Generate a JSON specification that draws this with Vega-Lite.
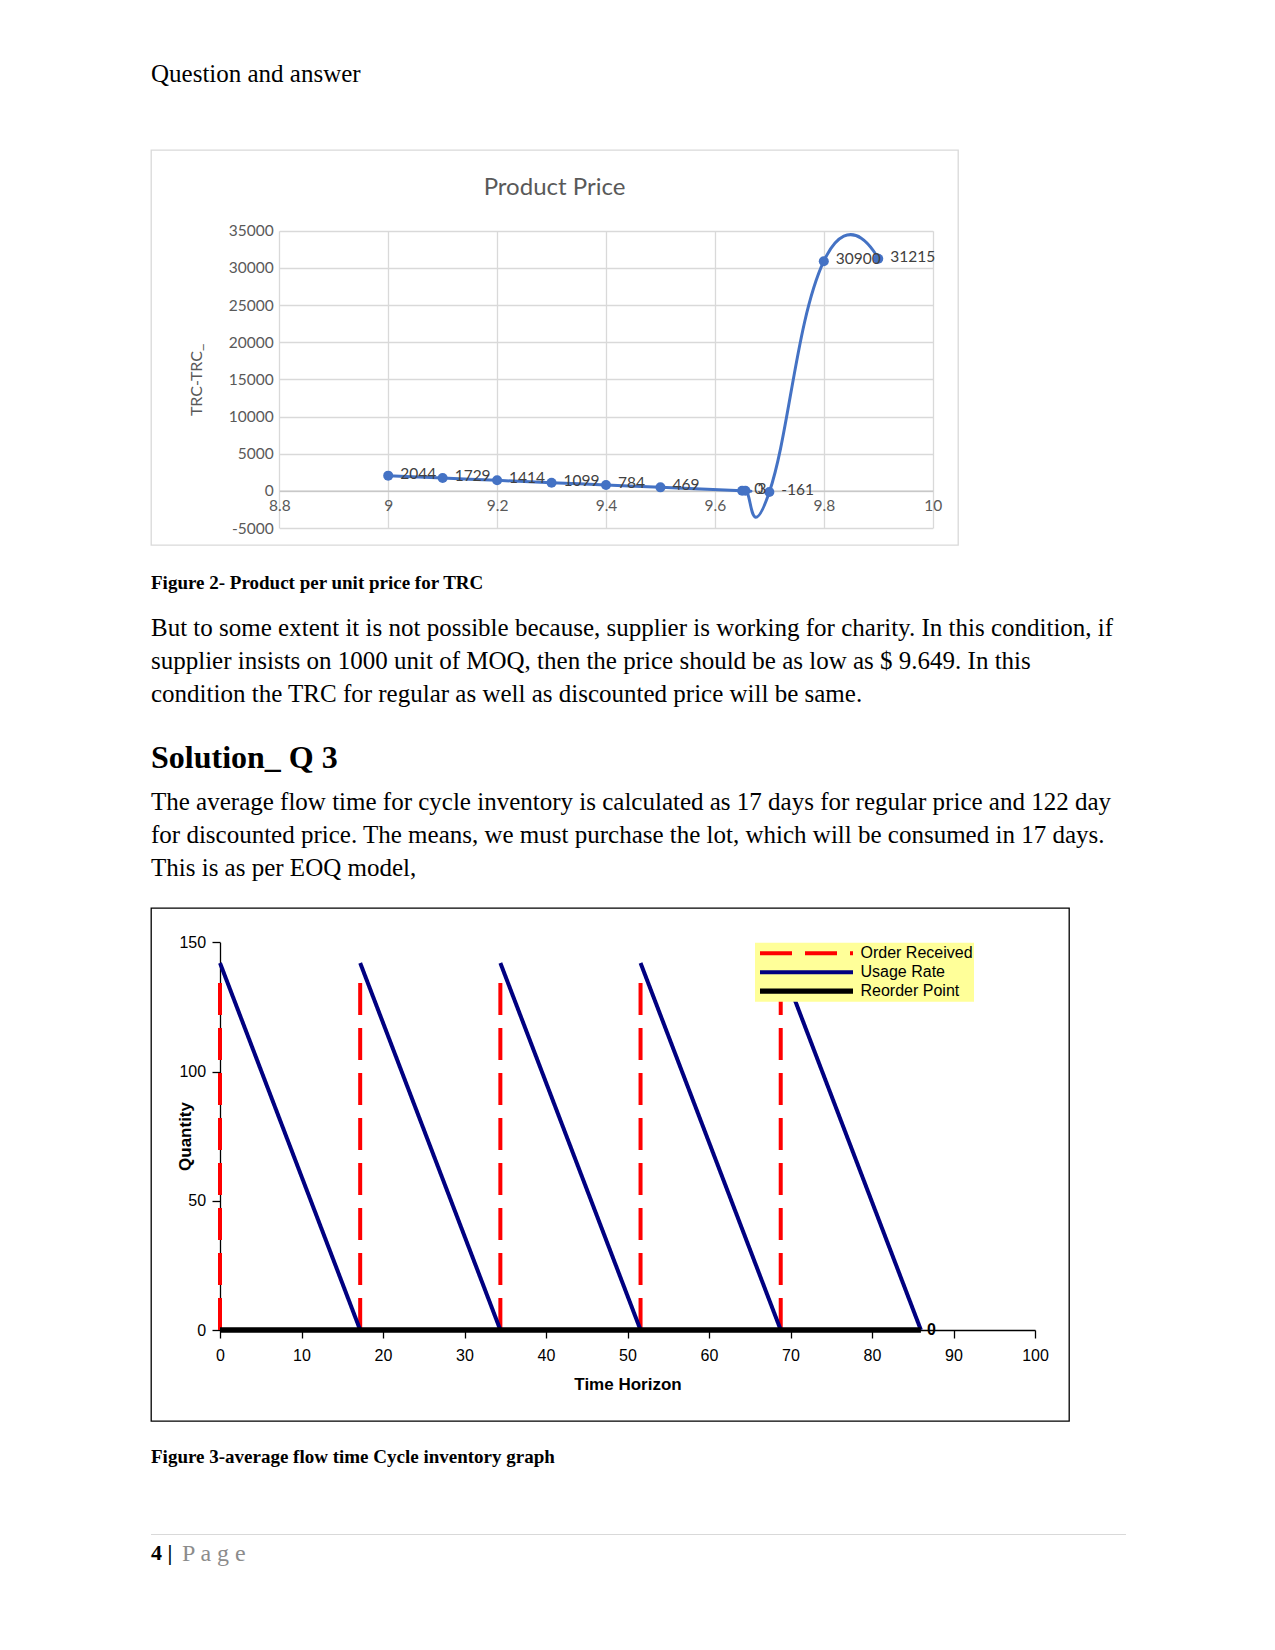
{
  "$schema": "https://vega.github.io/schema/vega-lite/v6.json",
  "background": "white",
  "padding": {"left": 150, "top": 0, "right": 0, "bottom": 0},
  "bounds": "flush",
  "spacing": 0,
  "resolve": {
    "scale": {"color": "independent", "strokeDash": "independent", "strokeWidth": "independent"},
    "legend": {"color": "independent", "strokeDash": "independent", "strokeWidth": "independent"}
  },
  "config": {
    "view": {"stroke": null},
    "font": "Liberation Serif",
    "axis": {"minExtent": 0}
  },
  "vconcat": [
    {
      "width": 807,
      "height": 150,
      "view": {"fill": "white", "stroke": null},
      "data": {"values": [{}]},
      "mark": {"type": "text"},
      "encoding": {"text": {"value": ""}},
      "title": {
        "text": "Question and answer",
        "orient": "bottom", "anchor": "start", "frame": "group",
        "offset": -87.75, "baseline": "top",
        "font": "Liberation Serif", "fontSize": 25, "fontWeight": "normal", "color": "black", "limit": 0
      }
    },
    {
      "width": 807,
      "height": 395,
      "view": {"stroke": "#d9d9d9", "strokeWidth": 1.3},
      "title": {
        "text": "Product Price",
        "orient": "top", "anchor": "middle", "offset": -50, "baseline": "top",
        "font": "Lato", "fontSize": 24, "fontWeight": "normal", "color": "#595959"
      },
      "data": {
        "values": [
          {"price": 9.0, "diff": 2044},
          {"price": 9.1, "diff": 1729},
          {"price": 9.2, "diff": 1414},
          {"price": 9.3, "diff": 1099},
          {"price": 9.4, "diff": 784},
          {"price": 9.5, "diff": 469},
          {"price": 9.65, "diff": 0},
          {"price": 9.656, "diff": 3},
          {"price": 9.7, "diff": -161},
          {"price": 9.8, "diff": 30900},
          {"price": 9.9, "diff": 31215}
        ]
      },
      "encoding": {
        "y": {
          "field": "diff", "type": "quantitative",
          "scale": {"domain": [-5000, 35000], "range": [378, 80.7], "nice": false, "zero": false},
          "axis": {
            "orient": "left", "offset": -128.3,
            "values": [-5000, 0, 5000, 10000, 15000, 20000, 25000, 30000, 35000],
            "domain": false, "ticks": false,
            "grid": true, "gridColor": "#d9d9d9", "gridWidth": 1.3,
            "labelPadding": 6, "labelFont": "Lato", "labelFontSize": 15.5, "labelColor": "#595959",
            "labelFlush": false, "labelOverlap": false,
            "labelExpr": "'' + datum.value",
            "title": "TRC-TRC_", "titleFont": "Lato", "titleFontSize": 16, "titleFontWeight": "normal",
            "titleColor": "#595959", "titleX": -83, "titleY": 229.4, "titleBaseline": "middle", "titleAngle": 270
          }
        }
      },
      "layer": [
        {
          "mark": {"type": "line", "interpolate": "cardinal", "tension": -0.5, "color": "#4472C4", "strokeWidth": 3},
          "encoding": {
            "x": {
              "field": "price", "type": "quantitative",
              "scale": {"domain": [8.8, 10], "range": [128.3, 781.7], "nice": false, "zero": false},
              "axis": {
                "orient": "top", "values": [8.8, 9, 9.2, 9.4, 9.6, 9.8, 10],
                "grid": true, "gridColor": "#d9d9d9", "gridWidth": 1.3,
                "domain": false, "ticks": false, "labels": false, "title": null
              }
            }
          }
        },
        {
          "mark": {"type": "point", "filled": true, "size": 100, "color": "#4472C4", "opacity": 1},
          "encoding": {
            "x": {
              "field": "price", "type": "quantitative",
              "scale": {"domain": [8.8, 10], "range": [128.3, 781.7], "nice": false, "zero": false},
              "axis": {
                "orient": "bottom", "offset": -54.3, "values": [8.8, 9, 9.2, 9.4, 9.6, 9.8, 10],
                "format": "~g", "grid": false,
                "domain": true, "domainColor": "#c8c8c8", "domainWidth": 1.5,
                "ticks": false, "labelPadding": 7.7,
                "labelFont": "Lato", "labelFontSize": 15.5, "labelColor": "#595959",
                "labelFlush": false, "labelOverlap": false, "title": null
              }
            }
          }
        },
        {
          "mark": {"type": "text", "align": "left", "baseline": "middle", "dx": 12, "dy": -2, "font": "Lato", "fontSize": 15.5, "color": "#404040"},
          "encoding": {
            "x": {
              "field": "price", "type": "quantitative",
              "scale": {"domain": [8.8, 10], "range": [128.3, 781.7], "nice": false, "zero": false},
              "axis": null
            },
            "text": {"field": "diff", "type": "nominal"}
          }
        }
      ],
      "resolve": {"axis": {"x": "independent"}}
    },
    {
      "width": 807,
      "height": 175,
      "data": {"values": [{}]},
      "mark": {"type": "text"},
      "encoding": {"text": {"value": ""}},
      "title": {
        "text": "Figure 2- Product per unit price for TRC",
        "subtitle": [
          "But to some extent it is not possible because, supplier is working for charity. In this condition, if",
          "supplier insists on 1000 unit of MOQ, then the price should be as low as $ 9.649. In this",
          "condition the TRC for regular as well as discounted price will be same."
        ],
        "orient": "bottom", "anchor": "start", "frame": "group",
        "offset": -146, "baseline": "top",
        "font": "Liberation Serif", "fontSize": 19, "fontWeight": "bold", "color": "black",
        "subtitleFont": "Liberation Serif", "subtitleFontSize": 25, "subtitleFontWeight": "normal",
        "subtitleColor": "black", "subtitleLineHeight": 33, "subtitlePadding": 23.25, "limit": 0
      }
    },
    {
      "width": 807,
      "height": 188,
      "data": {"values": [{}]},
      "mark": {"type": "text"},
      "encoding": {"text": {"value": ""}},
      "title": {
        "text": "Solution_ Q 3",
        "subtitle": [
          "The average flow time for cycle inventory is calculated as 17 days for regular price and 122 day",
          "for discounted price. The means, we must purchase the lot, which will be consumed in 17 days.",
          "This is as per EOQ model,"
        ],
        "orient": "bottom", "anchor": "start", "frame": "group",
        "offset": -165.3, "baseline": "top",
        "font": "Liberation Serif", "fontSize": 32, "fontWeight": "bold", "color": "black",
        "subtitleFont": "Liberation Serif", "subtitleFontSize": 25, "subtitleFontWeight": "normal",
        "subtitleColor": "black", "subtitleLineHeight": 33, "subtitlePadding": 15.55, "limit": 0
      }
    },
    {
      "width": 918,
      "height": 513,
      "view": {"stroke": "black", "strokeWidth": 1.3},
      "title": {
        "text": "Figure 3-average flow time Cycle inventory graph",
        "orient": "bottom", "anchor": "start", "frame": "group",
        "offset": 27, "baseline": "top",
        "font": "Liberation Serif", "fontSize": 19, "fontWeight": "bold", "color": "black", "limit": 0
      },
      "encoding": {
        "x": {
          "field": "t", "type": "quantitative",
          "scale": {"domain": [0, 100], "range": [69, 884], "nice": false, "zero": false},
          "axis": {
            "orient": "bottom", "offset": -91,
            "values": [0, 10, 20, 30, 40, 50, 60, 70, 80, 90, 100],
            "grid": false, "domainColor": "black", "domainWidth": 1.3,
            "tickSize": 8, "tickColor": "black", "tickWidth": 1.3,
            "labelPadding": 9, "labelFont": "Liberation Sans", "labelFontSize": 16, "labelColor": "black",
            "labelFlush": false, "labelOverlap": false,
            "title": "Time Horizon", "titleFont": "Liberation Sans", "titleFontSize": 17,
            "titleFontWeight": "bold", "titleColor": "black", "titleBaseline": "middle", "titleY": 54.3
          }
        },
        "y": {
          "field": "q", "type": "quantitative",
          "scale": {"domain": [0, 150], "range": [422, 34.3], "nice": false, "zero": false},
          "axis": {
            "orient": "left", "offset": -69,
            "values": [0, 50, 100, 150],
            "grid": false, "domainColor": "black", "domainWidth": 1.3,
            "tickSize": 8, "tickColor": "black", "tickWidth": 1.3,
            "labelPadding": 6.4, "labelFont": "Liberation Sans", "labelFontSize": 16, "labelColor": "black",
            "labelFlush": false, "labelOverlap": false,
            "title": "Quantity", "titleFont": "Liberation Sans", "titleFontSize": 17,
            "titleFontWeight": "bold", "titleColor": "black", "titleBaseline": "middle",
            "titleX": -35, "titleY": 228, "titleAngle": 270
          }
        }
      },
      "layer": [
        {
          "data": {"values": [
            {"series": "Order Received", "seg": "o1", "i": 0, "t": 0, "q": 0},
            {"series": "Order Received", "seg": "o1", "i": 1, "t": 0, "q": 137.3},
            {"series": "Order Received", "seg": "o2", "i": 0, "t": 17.2, "q": 0},
            {"series": "Order Received", "seg": "o2", "i": 1, "t": 17.2, "q": 137.3},
            {"series": "Order Received", "seg": "o3", "i": 0, "t": 34.4, "q": 0},
            {"series": "Order Received", "seg": "o3", "i": 1, "t": 34.4, "q": 137.3},
            {"series": "Order Received", "seg": "o4", "i": 0, "t": 51.6, "q": 0},
            {"series": "Order Received", "seg": "o4", "i": 1, "t": 51.6, "q": 137.3},
            {"series": "Order Received", "seg": "o5", "i": 0, "t": 68.8, "q": 0},
            {"series": "Order Received", "seg": "o5", "i": 1, "t": 68.8, "q": 137.3},
            {"series": "Usage Rate", "seg": "u1", "i": 0, "t": 0, "q": 142},
            {"series": "Usage Rate", "seg": "u1", "i": 1, "t": 17.2, "q": 0},
            {"series": "Usage Rate", "seg": "u2", "i": 0, "t": 17.2, "q": 142},
            {"series": "Usage Rate", "seg": "u2", "i": 1, "t": 34.4, "q": 0},
            {"series": "Usage Rate", "seg": "u3", "i": 0, "t": 34.4, "q": 142},
            {"series": "Usage Rate", "seg": "u3", "i": 1, "t": 51.6, "q": 0},
            {"series": "Usage Rate", "seg": "u4", "i": 0, "t": 51.6, "q": 142},
            {"series": "Usage Rate", "seg": "u4", "i": 1, "t": 68.8, "q": 0},
            {"series": "Usage Rate", "seg": "u5", "i": 0, "t": 68.8, "q": 142},
            {"series": "Usage Rate", "seg": "u5", "i": 1, "t": 86, "q": 0},
            {"series": "Reorder Point", "seg": "r1", "i": 0, "t": 0, "q": 0},
            {"series": "Reorder Point", "seg": "r1", "i": 1, "t": 86, "q": 0}
          ]},
          "mark": {"type": "line"},
          "encoding": {
            "detail": {"field": "seg", "type": "nominal"},
            "order": {"field": "i", "type": "quantitative"},
            "color": {"field": "series", "type": "nominal",
              "scale": {"domain": ["Order Received", "Usage Rate", "Reorder Point"], "range": ["#FF0000", "#000080", "#000000"]},
              "legend": {"orient": "none", "legendX": 604, "legendY": 34.7, "title": null, "fillColor": "#FFFF99", "padding": 1, "clipHeight": 19, "rowPadding": 0, "symbolType": "stroke", "symbolSize": 8649, "symbolOffset": 1, "labelOffset": 4.5, "labelFont": "Liberation Sans", "labelFontSize": 16, "labelColor": "black", "labelLimit": 0}},
            "strokeDash": {"field": "series", "type": "nominal",
              "scale": {"domain": ["Order Received", "Usage Rate", "Reorder Point"], "range": [[32, 13], [1, 0], [1, 0]]},
              "legend": {"orient": "none", "legendX": 604, "legendY": 34.7, "title": null, "fillColor": "#FFFF99", "padding": 1, "clipHeight": 19, "rowPadding": 0, "symbolType": "stroke", "symbolSize": 8649, "symbolOffset": 1, "labelOffset": 4.5, "labelFont": "Liberation Sans", "labelFontSize": 16, "labelColor": "black", "labelLimit": 0}},
            "strokeWidth": {"field": "series", "type": "nominal",
              "scale": {"type": "ordinal", "domain": ["Order Received", "Usage Rate", "Reorder Point"], "range": [4, 4, 5.3]},
              "legend": {"orient": "none", "legendX": 604, "legendY": 34.7, "title": null, "fillColor": "#FFFF99", "padding": 1, "clipHeight": 19, "rowPadding": 0, "symbolType": "stroke", "symbolSize": 8649, "symbolOffset": 1, "labelOffset": 4.5, "labelFont": "Liberation Sans", "labelFontSize": 16, "labelColor": "black", "labelLimit": 0}}
          }
        },
        {
          "data": {"values": [{"t": 86, "q": 0, "lab": "0"}]},
          "mark": {"type": "text", "align": "left", "baseline": "middle", "dx": 6, "font": "Liberation Sans", "fontSize": 16, "fontWeight": "bold", "color": "black"},
          "encoding": {"text": {"field": "lab", "type": "nominal"}}
        }
      ]
    },
    {
      "width": 807,
      "height": 113,
      "data": {"values": [{}]},
      "mark": {"type": "text"},
      "encoding": {"text": {"value": ""}}
    },
    {
      "width": 975,
      "height": 1,
      "view": {"fill": "#d9d9d9", "stroke": null},
      "data": {"values": [{}]},
      "mark": {"type": "text"},
      "encoding": {"text": {"value": ""}},
      "title": {
        "text": "4 |",
        "orient": "bottom", "anchor": "start", "frame": "group",
        "offset": 3.6, "baseline": "top",
        "font": "Liberation Serif", "fontSize": 22, "fontWeight": "bold", "color": "black"
      }
    },
    {
      "width": 975,
      "height": 1,
      "data": {"values": [{}]},
      "mark": {"type": "text"},
      "encoding": {"text": {"value": ""}},
      "title": {
        "text": "P a g e",
        "orient": "bottom", "anchor": "start", "frame": "group",
        "offset": 1.0, "dx": 31, "baseline": "top",
        "font": "Liberation Serif", "fontSize": 24, "fontWeight": "normal", "color": "#8c8c8c"
      }
    }
  ]
}
